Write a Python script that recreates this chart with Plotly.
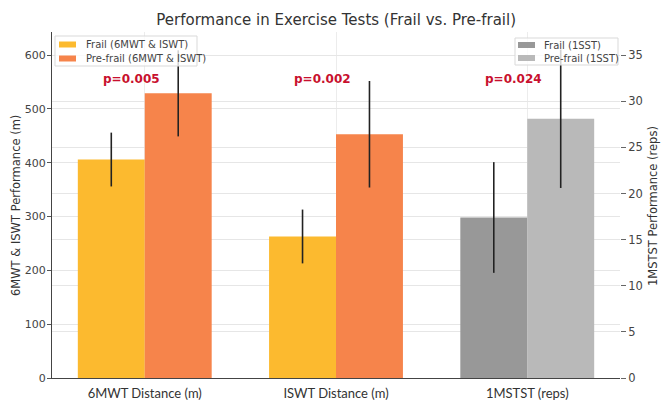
import numpy as np
import plotly.graph_objects as go

categories = ["6MWT Distance (m)", "ISWT Distance (m)", "1MSTST (reps)"]
frail_walk = [406, 263]
frail_walk_sd = [50, 50]
prefrail_walk = [529, 453]
prefrail_walk_sd = [80, 99]
frail_sst = [17.4]
frail_sst_sd = [6.0]
prefrail_sst = [28.1]
prefrail_sst_sd = [7.5]
p_values = ["p=0.005", "p=0.002", "p=0.024"]
left_ticks = [0, 100, 200, 300, 400, 500, 600]
right_ticks = [0, 5, 10, 15, 20, 25, 30, 35]
legend1_labels = ["Frail (6MWT & ISWT)", "Pre-frail (6MWT & ISWT)"]
legend2_labels = ["Frail (1SST)", "Pre-frail (1SST)"]

W = 0.35
idx = np.arange(len(categories))
walk_idx = idx[:2]
sst_idx = idx[2:]

C_FRAIL = "#FCBA2F"
C_PRE = "#F6844B"
C_GF = "#989898"
C_GP = "#B9B9B9"
ERR = dict(type="data", thickness=1.6, width=0, color="#222222")

# plot area in pixels
L, R, T, B = 52, 620, 32, 378
def px(x):
    return (x - L) / (R - L)
def py(y):
    return (B - y) / (B - T)

fig = go.Figure()
fig.add_trace(go.Bar(x=walk_idx - W / 2, y=frail_walk, width=W, marker_color=C_FRAIL,
                     marker_line_width=0, name=legend1_labels[0], showlegend=False,
                     error_y=dict(array=frail_walk_sd, **ERR)))
fig.add_trace(go.Bar(x=walk_idx + W / 2, y=prefrail_walk, width=W, marker_color=C_PRE,
                     marker_line_width=0, name=legend1_labels[1], showlegend=False,
                     error_y=dict(array=prefrail_walk_sd, **ERR)))
fig.add_trace(go.Bar(x=sst_idx - W / 2, y=frail_sst, width=W, marker_color=C_GF,
                     marker_line_width=0, name=legend2_labels[0], yaxis="y2", showlegend=False,
                     error_y=dict(array=frail_sst_sd, **ERR)))
fig.add_trace(go.Bar(x=sst_idx + W / 2, y=prefrail_sst, width=W, marker_color=C_GP,
                     marker_line_width=0, name=legend2_labels[1], yaxis="y2", showlegend=False,
                     error_y=dict(array=prefrail_sst_sd, **ERR)))

for i, p in enumerate(p_values):
    fig.add_annotation(x=i - 0.07, y=556, xref="x", yref="y", text="<b>%s</b>" % p,
                       showarrow=False, font=dict(family="DejaVu Sans", size=12, color="#C8102E"))

# legend boxes (drawn like matplotlib legends)
def add_legend(x0, x1, y0, y1, sw_x0, sw_x1, text_x, row_y, labels, colors):
    fig.add_shape(type="rect", xref="paper", yref="paper", x0=px(x0), x1=px(x1), y0=py(y1), y1=py(y0),
                  fillcolor="rgba(255,255,255,0.8)", line=dict(color="#d9d9d9", width=1), layer="above")
    for ry, lab, col in zip(row_y, labels, colors):
        fig.add_shape(type="rect", xref="paper", yref="paper", x0=px(sw_x0), x1=px(sw_x1),
                      y0=py(ry + 3), y1=py(ry - 3), fillcolor=col, line=dict(width=0), layer="above")
        fig.add_annotation(x=px(text_x), y=py(ry), xref="paper", yref="paper", text=lab,
                           showarrow=False, xanchor="left", yanchor="middle",
                           font=dict(family="DejaVu Sans", size=10, color="#444444"))

add_legend(55, 197, 36, 66, 59, 76, 84, [44.5, 58.5], legend1_labels, [C_FRAIL, C_PRE])
add_legend(515, 618, 38, 65, 518, 535, 542, [45, 58], legend2_labels, [C_GF, C_GP])

# axis titles
fig.add_annotation(x=px(16), y=py(206), xref="paper", yref="paper", text="6MWT & ISWT Performance (m)",
                   textangle=-90, showarrow=False, xanchor="center", yanchor="middle",
                   font=dict(family="DejaVu Sans", size=11.5, color="#333333"))
fig.add_annotation(x=px(653), y=py(206), xref="paper", yref="paper", text="1MSTST Performance (reps)",
                   textangle=-90, showarrow=False, xanchor="center", yanchor="middle",
                   font=dict(family="DejaVu Sans", size=11.5, color="#333333"))

ymax = 643
grid = "#e6e6e6"
fig.update_layout(
    width=662, height=401,
    margin=dict(l=L, r=662 - R, t=T, b=401 - B),
    paper_bgcolor="white", plot_bgcolor="white",
    barmode="overlay",
    showlegend=False,
    font=dict(family="DejaVu Sans", color="#333333"),
    title=dict(text="Performance in Exercise Tests (Frail vs. Pre-frail)", x=0.5078, xanchor="center",
               xref="container", yref="container",
               y=0.95, yanchor="middle", font=dict(size=15, color="#333333")),
    xaxis=dict(range=[-0.485, 2.485], tickvals=list(idx), ticktext=categories, automargin=False,
               showgrid=True, gridcolor="#ececec", gridwidth=1, ticklabelstandoff=3,
               showline=True, linecolor="#444444", linewidth=1, ticks="",
               tickfont=dict(family="Lato", size=13, color="#333333"), zeroline=False),
    yaxis=dict(range=[0, ymax], tickvals=left_ticks, showgrid=True, gridcolor=grid, automargin=False,
               showline=True, linecolor="#444444", linewidth=1, ticks="outside", ticklen=4,
               tickcolor="#555555", zeroline=False, ticklabelstandoff=-1,
               tickfont=dict(size=11, color="#444444")),
    yaxis2=dict(range=[0, ymax * 35 / 600], tickvals=right_ticks, overlaying="y", side="right",
                automargin=False,
                showgrid=True, gridcolor=grid, showline=False, ticks="outside", ticklen=5,
                tickcolor="#666666", zeroline=False,
                tickfont=dict(size=11.5, color="#444444")),
)

fig.write_html("out.html", config={"displayModeBar": False},
               post_script="document.body.style.margin='0';document.body.style.padding='0';")
